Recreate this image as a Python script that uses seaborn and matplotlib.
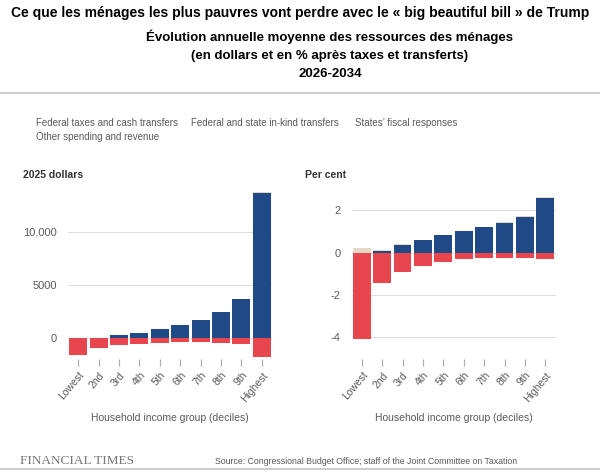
import matplotlib
matplotlib.use("Agg")
import matplotlib.pyplot as plt
import seaborn as sns

deciles = ["Lowest", "2nd", "3rd", "4th", "5th", "6th", "7th", "8th", "9th", "Highest"]

# 2025 dollars
dollars_fed_taxes = [0, 30, 310, 530, 905, 1280, 1720, 2440, 3655, 13590]
dollars_in_kind = [-1560, -875, -625, -530, -405, -345, -345, -440, -500, -1780]
dollars_states = [0, 0, 0, 0, 0, 0, 40, 0, 60, 150]

# per cent
pct_fed_taxes = [0.0, 0.1, 0.38, 0.6, 0.82, 1.03, 1.2, 1.42, 1.69, 2.6]
pct_in_kind = [-4.1, -1.42, -0.93, -0.63, -0.43, -0.32, -0.24, -0.24, -0.24, -0.3]
pct_states = [0.2, 0.05, 0.02, 0.02, 0.02, 0.02, 0.02, 0.02, 0.03, 0.02]

legend_labels = ["Federal taxes and cash transfers", "Federal and state in-kind transfers",
                 "States\u2019 fiscal responses", "Other spending and revenue"]

blue = "#1f4a86"
red = "#e8464f"
beige = "#e3d9c6"
grey_txt = "#5a5a5a"

sns.set_style("white")
plt.rcParams['font.family'] = ['Liberation Sans', 'DejaVu Sans']

fig = plt.figure(figsize=(6, 4.74), dpi=100)

# titles
fig.text(0.5, 1 - 13 / 474, "Ce que les m\u00e9nages les plus pauvres vont perdre avec le \u00ab big beautiful bill \u00bb de Trump",
         ha="center", va="center", fontsize=10, fontweight="bold", color="black")
for txt, y in [("\u00c9volution annuelle moyenne des ressources des m\u00e9nages", 37),
               ("(en dollars et en % apr\u00e8s taxes et transferts)", 56),
               ("2026-2034", 74)]:
    fig.text(0.55, 1 - y / 474, txt, ha="center", va="center", fontsize=9.5, fontweight="bold", color="black")

fig.add_artist(plt.Line2D([0, 1], [1 - 93 / 474, 1 - 93 / 474], color="#cccccc", lw=1.5))
fig.add_artist(plt.Line2D([0, 1], [1 - 469 / 474, 1 - 469 / 474], color="#cccccc", lw=1.5))

# legend (text only)
fig.text(36 / 600, 1 - 123 / 474, legend_labels[0], fontsize=7, color=grey_txt, va="center")
fig.text(191 / 600, 1 - 123 / 474, legend_labels[1], fontsize=7, color=grey_txt, va="center")
fig.text(355 / 600, 1 - 123 / 474, legend_labels[2], fontsize=7, color=grey_txt, va="center")
fig.text(36 / 600, 1 - 137 / 474, legend_labels[3], fontsize=7, color=grey_txt, va="center")


def panel(rect, pos, neg, top, ylim, yticks, yticklabels, unit, unit_x):
    ax = fig.add_axes(rect)
    ax.set_axisbelow(True)
    ax.yaxis.grid(True, color="#dddddd", lw=0.8)
    sns.barplot(x=deciles, y=pos, color=blue, saturation=1, width=0.88, linewidth=0, ax=ax)
    sns.barplot(x=deciles, y=top, color=beige, saturation=1, width=0.88, linewidth=0,
                bottom=[max(p, 0) for p in pos], ax=ax)
    sns.barplot(x=deciles, y=neg, color=red, saturation=1, width=0.88, linewidth=0, ax=ax)
    ax.set_xlim(-0.5, 9.5)
    ax.set_ylim(*ylim)
    ax.set_yticks(yticks)
    ax.set_yticklabels(yticklabels)
    for s in ax.spines.values():
        s.set_visible(False)
    ax.tick_params(axis="y", length=0, pad=8, labelsize=8, labelcolor=grey_txt)
    ax.tick_params(axis="x", length=5, width=0.8, color="#aaaaaa", pad=3, labelsize=7.5,
                   labelcolor=grey_txt, direction="out", bottom=True)
    plt.setp(ax.get_xticklabels(), rotation=50, ha="right", rotation_mode="anchor")
    ax.set_xlabel("Household income group (deciles)", fontsize=7.5, color=grey_txt, labelpad=7)
    ax.set_ylabel("")
    fig.text(unit_x, 1 - 175 / 474, unit, fontsize=7.5, fontweight="bold", color="#333333", va="center")
    return ax


panel([68 / 600, 1 - 359 / 474, 204 / 600, 173 / 474], dollars_fed_taxes, dollars_in_kind, dollars_states,
      (-1940, 14270), [0, 5000, 10000], ["0", "5000", "10,000"], "2025 dollars", 23 / 600)
panel([351.5 / 600, 1 - 359 / 474, 204 / 600, 173 / 474], pct_fed_taxes, pct_in_kind, pct_states,
      (-5.04, 3.16), [-4, -2, 0, 2], ["-4", "-2", "0", "2"], "Per cent", 305 / 600)

# footer
fig.text(20 / 600, 1 - 461 / 474, "FINANCIAL TIMES", fontsize=9.5, family=["Liberation Serif", "DejaVu Serif"],
         color="#777777", va="center")
fig.text(215 / 600, 1 - 462 / 474, "Source: Congressional Budget Office; staff of the Joint Committee on Taxation",
         fontsize=6.3, color=grey_txt, va="center")

fig.savefig("out.png", dpi=100)
